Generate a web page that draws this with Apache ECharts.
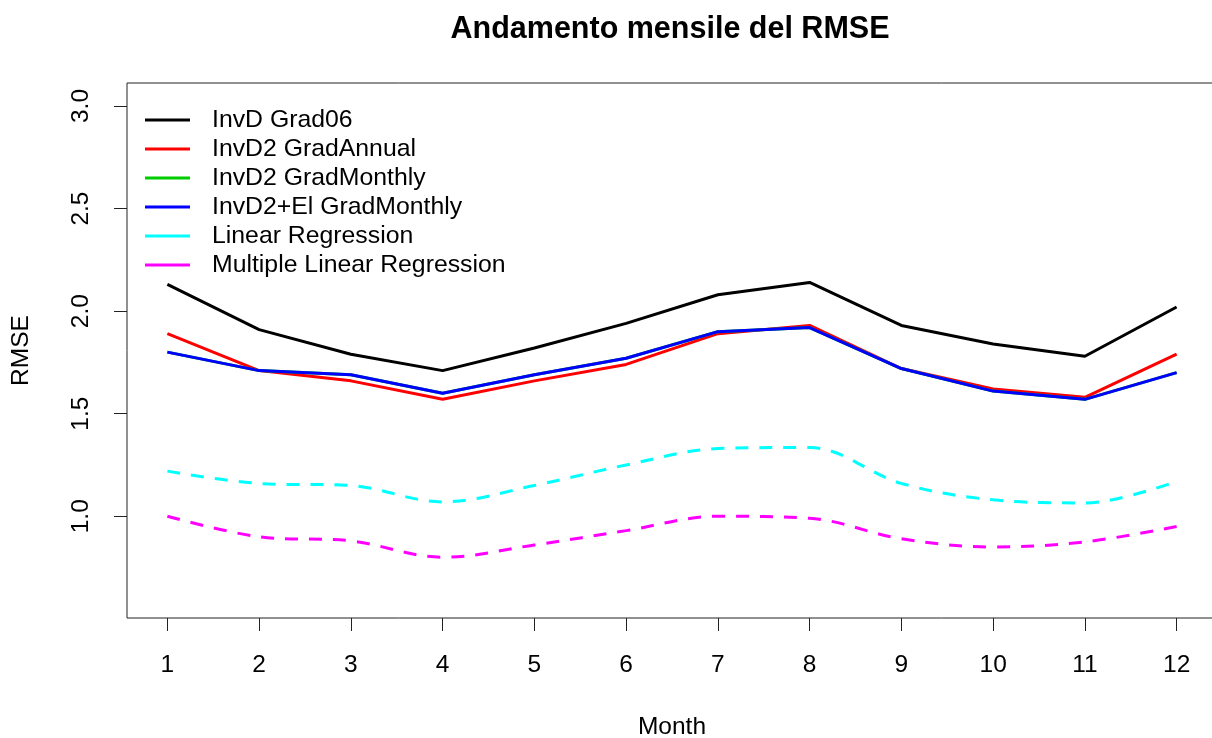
<!DOCTYPE html>
<html>
<head>
<meta charset="utf-8">
<script src="https://cdn.jsdelivr.net/npm/echarts@6/dist/echarts.min.js"></script>
<style>
  html, body { margin: 0; padding: 0; background: #fff; }
  #main { width: 1212px; height: 738px; }
</style>
</head>
<body>
<div id="main"></div>
<script>
// data
var months = [1, 2, 3, 4, 5, 6, 7, 8, 9, 10, 11, 12];
var invdGrad06 = [2.13, 1.91, 1.79, 1.71, 1.82, 1.94, 2.08, 2.14, 1.93, 1.84, 1.78, 2.02];
var invd2GradAnnual = [1.89, 1.71, 1.66, 1.57, 1.66, 1.74, 1.89, 1.93, 1.72, 1.62, 1.58, 1.79];
var invd2GradMonthly = [1.80, 1.71, 1.69, 1.60, 1.69, 1.77, 1.90, 1.92, 1.72, 1.61, 1.57, 1.70];
var invd2ElGradMonthly = [1.80, 1.71, 1.69, 1.60, 1.69, 1.77, 1.90, 1.92, 1.72, 1.61, 1.57, 1.70];
var linearRegression = [1.22, 1.16, 1.15, 1.07, 1.15, 1.25, 1.33, 1.335, 1.16, 1.08, 1.065, 1.17];
var multipleLinearRegression = [1.00, 0.90, 0.88, 0.80, 0.86, 0.93, 1.00, 0.99, 0.89, 0.85, 0.875, 0.95];
var yTicks = [1.0, 1.5, 2.0, 2.5, 3.0];

function pairs(vals) {
  return months.map(function (m, i) { return [m, vals[i]]; });
}

var font = 'Liberation Sans, Arial, sans-serif';
var fs = 24.5;

function line(name, vals, color, dashed) {
  return {
    name: name,
    type: 'line',
    data: pairs(vals),
    symbol: 'none',
    smooth: dashed ? 0.35 : false,
    lineStyle: { color: color, width: 3, type: dashed ? [13, 11] : 'solid' },
    itemStyle: { color: color },
    animation: false
  };
}

var chart = echarts.init(document.getElementById('main'));
chart.setOption({
  backgroundColor: '#fff',
  animation: false,
  title: {
    text: 'Andamento mensile del RMSE',
    left: 665,
    textAlign: 'center',
    top: 9,
    textStyle: { fontFamily: font, fontSize: 30.5, fontWeight: 'bold', color: '#000' }
  },
  grid: {
    left: 127, top: 83, right: -5, bottom: 120,
    outerBoundsMode: 'none',
    show: true, borderColor: '#222', borderWidth: 1
  },
  legend: {
    orient: 'vertical',
    left: 145,
    top: 107.5,
    padding: 0,
    icon: 'rect',
    itemWidth: 45,
    itemHeight: 3,
    itemGap: 4,
    textStyle: { fontFamily: font, fontSize: 24.8, lineHeight: 25, color: '#000', padding: [0, 0, 0, 17] },
    data: ['InvD Grad06', 'InvD2 GradAnnual', 'InvD2 GradMonthly', 'InvD2+El GradMonthly',
      'Linear Regression', 'Multiple Linear Regression']
  },
  xAxis: {
    type: 'value',
    min: 0.56,
    max: 12.44,
    name: 'Month',
    nameLocation: 'middle',
    nameGap: 97,
    nameTextStyle: { fontFamily: font, fontSize: fs, color: '#000' },
    splitLine: { show: false },
    axisLine: { show: false },
    axisTick: { show: true, length: 13, customValues: months, lineStyle: { color: '#222' } },
    axisLabel: {
      customValues: months, margin: 35,
      fontFamily: font, fontSize: fs, color: '#000'
    }
  },
  yAxis: {
    type: 'value',
    min: 0.504,
    max: 3.112,
    name: 'RMSE',
    nameLocation: 'middle',
    nameRotate: 90,
    nameGap: 93,
    nameTextStyle: { fontFamily: font, fontSize: fs, color: '#000' },
    splitLine: { show: false },
    axisLine: { show: false },
    axisTick: { show: true, length: 13, customValues: yTicks, lineStyle: { color: '#222' } },
    axisLabel: {
      customValues: yTicks, rotate: 90, margin: 33,
      fontFamily: font, fontSize: fs, color: '#000',
      formatter: function (v) { return v.toFixed(1); }
    }
  },
  series: [
    line('InvD Grad06', invdGrad06, '#000000', false),
    line('InvD2 GradAnnual', invd2GradAnnual, '#ff0000', false),
    line('InvD2 GradMonthly', invd2GradMonthly, '#00cd00', false),
    line('InvD2+El GradMonthly', invd2ElGradMonthly, '#0000ff', false),
    line('Linear Regression', linearRegression, '#00ffff', true),
    line('Multiple Linear Regression', multipleLinearRegression, '#ff00ff', true)
  ]
});
</script>
</body>
</html>
